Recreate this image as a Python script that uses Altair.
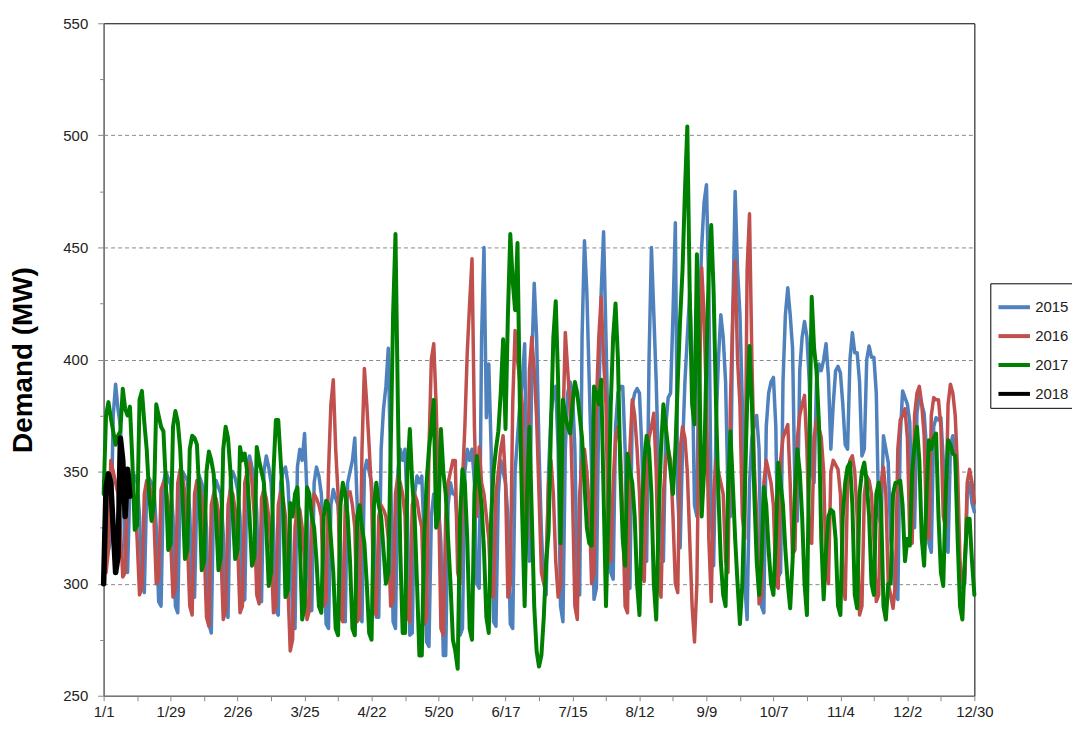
import altair as alt
import pandas as pd

tick_labels = ["1/1", "1/29", "2/26", "3/25", "4/22", "5/20", "6/17", "7/15",
               "8/12", "9/9", "10/7", "11/4", "12/2", "12/30"]
years = ["2015", "2016", "2017", "2018"]
colors = ["#4F81BD", "#C0504D", "#008000", "#000000"]
widths = [3.5, 3.5, 4.0, 5.5]

demand_2015 = [
    318, 335, 315, 320, 375, 389, 378,
    370, 350, 310, 305, 345, 350, 348,
    345, 330, 300, 296, 342, 347, 345,
    343, 325, 292, 290, 345, 350, 347,
    344, 330, 290, 287, 345, 350, 348,
    346, 332, 296, 294, 342, 348, 345,
    340, 325, 282, 278, 340, 346, 343,
    340, 322, 288, 285, 346, 350, 347,
    342, 330, 292, 293, 352, 357, 352,
    348, 332, 295, 292, 350, 357, 352,
    345, 325, 288, 286, 345, 350, 352,
    345, 325, 282, 280, 352, 360, 355,
    367, 340, 290, 288, 345, 352, 348,
    340, 320, 282, 280, 335, 342, 338,
    335, 318, 285, 283, 345, 350, 355,
    365, 335, 285, 283, 350, 355, 350,
    345, 325, 285, 285, 360, 378, 388,
    405, 350, 283, 280, 350, 360, 355,
    360, 330, 277, 278, 340, 348, 345,
    348, 320, 274, 272, 330, 340, 338,
    335, 318, 268, 268, 335, 345, 340,
    340, 325, 277, 280, 350, 360, 355,
    360, 345, 300, 298, 410, 450, 374,
    398, 360, 283, 281, 340, 355, 350,
    345, 330, 282, 280, 350, 365, 380,
    390, 407, 330, 310, 400, 434, 410,
    360, 323, 300, 295, 350, 375, 385,
    388, 360, 290, 283, 360, 385, 390,
    385, 360, 300, 295, 410, 453, 430,
    390, 350, 293, 298, 380, 430, 457,
    410, 360, 305, 302, 370, 385, 388,
    388, 360, 300, 298, 380, 385, 387,
    385, 360, 312, 310, 400, 450, 420,
    390, 350, 312, 310, 370, 383, 385,
    420, 461, 340, 316, 360, 390, 410,
    430, 400, 335, 330, 420, 450, 470,
    478, 430, 330, 308, 370, 400, 420,
    410, 390, 340, 330, 420, 475, 440,
    420, 380, 300, 284, 345, 365, 371,
    375, 360, 290, 287, 370, 385, 390,
    392, 370, 303, 305, 390, 420, 432,
    420, 405, 340, 328, 395, 410, 417,
    410, 390, 350, 345, 390, 398, 395,
    400, 407, 392, 360, 380, 395, 397,
    394, 380, 362, 360, 400, 412, 403,
    403, 390, 357, 360, 400, 406, 401,
    401, 385, 330, 326, 366, 360, 354,
    320, 310, 295, 293, 365, 386, 383,
    380, 372, 330, 325, 376, 384, 380,
    376, 360, 318, 314, 370, 374, 373,
    374, 355, 316, 314, 362, 366, 355,
    330, 300, 298, 300, 340, 345, 336,
    332,
]

demand_2016 = [
    310, 305, 315, 355, 350, 345, 340,
    325, 303, 305, 345, 346, 342, 338,
    320, 295, 298, 340, 346, 345, 340,
    330, 300, 302, 342, 345, 343, 335,
    320, 294, 298, 345, 351, 348, 340,
    320, 290, 286, 340, 346, 345, 338,
    318, 285, 281, 335, 340, 338, 332,
    315, 284, 288, 335, 342, 340, 333,
    318, 287, 290, 345, 350, 354, 345,
    330, 295, 291, 338, 342, 338, 330,
    315, 287, 290, 335, 341, 338, 330,
    300, 270, 275, 325, 335, 333, 325,
    310, 284, 288, 330, 340, 338, 335,
    330, 290, 292, 350, 380, 391, 360,
    340, 285, 283, 335, 340, 341, 335,
    325, 283, 285, 360, 396, 380, 361,
    340, 288, 286, 330, 335, 333, 330,
    320, 290, 292, 340, 348, 345, 340,
    330, 285, 283, 335, 340, 337, 330,
    325, 282, 284, 360, 400, 407, 380,
    340, 280, 277, 330, 345, 350, 355,
    355, 305, 300, 345, 370, 403, 425,
    445, 370, 330, 361, 345, 340, 330,
    320, 295, 294, 340, 350, 360, 366,
    345, 294, 300, 380, 413, 400, 390,
    380, 330, 320, 395, 410, 395, 374,
    340, 305, 300, 310, 345, 355, 340,
    310, 294, 300, 370, 412, 395, 380,
    340, 290, 284, 340, 355, 360, 350,
    335, 300, 305, 380, 410, 428, 400,
    380, 320, 310, 345, 365, 370, 360,
    330, 290, 287, 360, 382, 375, 360,
    340, 305, 301, 350, 365, 370, 376,
    350, 300, 294, 340, 355, 360, 355,
    330, 300, 296, 360, 370, 365, 350,
    320, 290, 274, 300, 380, 441, 420,
    380, 320, 292, 340, 355, 350, 345,
    340, 310, 305, 380, 420, 444, 400,
    380, 330, 320, 440, 465, 400, 352,
    330, 291, 295, 345, 355, 350, 345,
    335, 300, 298, 355, 365, 368, 371,
    345, 313, 315, 365, 375, 380, 384,
    360, 320, 318, 365, 373, 370, 365,
    350, 305, 300, 350, 355, 353, 351,
    340, 300, 293, 345, 355, 357, 350,
    330, 286, 290, 340, 348, 346, 340,
    320, 292, 295, 345, 352, 340, 300,
    295, 289, 300, 360, 373, 375, 378,
    365, 320, 318, 375, 385, 388, 380,
    366, 325, 320, 375, 383, 382, 382,
    370, 330, 325, 380, 389, 385, 375,
    350, 310, 301, 305, 345, 351, 345,
    336,
]

demand_2017 = [
    340, 375, 381, 374, 368, 362, 366,
    368, 387, 378, 375, 379, 355, 324,
    326, 382, 386, 372, 360, 340, 328,
    335, 380, 375, 370, 368, 345, 315,
    318, 370, 377, 372, 360, 338, 311,
    315, 360, 366, 365, 362, 340, 306,
    310, 350, 359, 355, 349, 330, 306,
    312, 360, 370, 365, 350, 330, 311,
    315, 361, 355, 358, 350, 330, 308,
    312, 361, 355, 350, 345, 325, 299,
    305, 350, 373, 373, 355, 336, 294,
    297, 336, 330, 340, 343, 320, 284,
    290, 343, 340, 330, 325, 310, 290,
    287, 330, 337, 335, 320, 305, 280,
    277, 335, 345, 340, 330, 310, 280,
    277, 330, 335, 325, 318, 300, 278,
    275, 335, 345, 335, 330, 315, 300,
    305, 360, 420, 456, 380, 315, 278,
    278, 350, 369, 345, 330, 300, 268,
    268, 320, 345, 360, 370, 382, 325,
    330, 369, 350, 340, 320, 300, 275,
    270, 262, 330, 351, 345, 320, 280,
    275, 340, 357, 345, 335, 315, 285,
    278, 330, 350, 360, 368, 385, 409,
    369, 420, 456, 435, 422, 452, 380,
    330, 290, 340, 370, 330, 290, 270,
    263, 268, 285, 310, 323, 370, 410,
    426, 390, 318, 382, 375, 370, 367,
    380, 390, 385, 375, 365, 345, 325,
    318, 317, 388, 385, 380, 391, 340,
    290, 330, 380, 410, 425, 400, 350,
    320, 308, 358, 350, 345, 330, 300,
    286, 330, 355, 366, 360, 340, 300,
    284, 330, 360, 380, 370, 360, 350,
    340, 360, 390, 418, 440, 475, 504,
    430, 380, 371, 447, 400, 330, 350,
    400, 440, 460, 430, 380, 340, 310,
    295, 290, 340, 368, 345, 320, 300,
    282, 300, 340, 380, 406, 380, 340,
    310, 295, 310, 343, 335, 315, 300,
    295, 320, 354, 345, 335, 315, 300,
    289, 310, 340, 360, 350, 330, 300,
    286, 360, 428, 405, 395, 372, 320,
    293, 315, 330, 333, 332, 320, 290,
    286, 330, 345, 352, 354, 335, 295,
    289, 340, 350, 354, 345, 330, 300,
    295, 340, 345, 335, 290, 284, 300,
    300, 340, 345, 345, 346, 335, 310,
    320, 317, 350, 362, 370, 355, 320,
    308, 340, 364, 360, 365, 367, 330,
    305, 299, 340, 364, 362, 358, 357,
    320, 290, 284, 310, 329, 329, 310,
    295,
]

demand_2018 = [300, 343, 349, 345, 325, 305, 312, 365, 355, 330, 351, 339]

rows = []
for yr, vals in zip(years, [demand_2015, demand_2016, demand_2017, demand_2018]):
    for i, v in enumerate(vals):
        rows.append({"day": i, "year": yr, "demand": v})
df = pd.DataFrame(rows)

label_js = "[" + ",".join("'" + t + "'" for t in tick_labels) + "]"

font = "Liberation Sans"

x_axis = alt.Axis(
    values=list(range(0, 365, 14)),
    labelExpr="datum.value % 28 == 0 ? " + label_js + "[datum.value / 28] : ''",
    grid=False, labelFlush=False, labelOverlap=False,
    tickSize=5, labelPadding=4, labelFontSize=15, labelFont=font,
    labelColor="#222222", domainColor="#888888", tickColor="#888888",
    title=None,
)

y_axis = alt.Axis(
    values=list(range(250, 551, 25)),
    labelExpr="datum.value % 50 == 0 ? datum.label : ''",
    labelFlush=False, labelOverlap=False,
    tickSize={"condition": {"test": "datum.value % 50 != 0", "value": 4}, "value": 6},
    labelPadding=10, labelFontSize=15, labelFont=font, labelColor="#222222",
    domainColor="#888888", tickColor="#888888",
    grid=True, gridColor="#8a8a8a", gridDash=[4, 3], gridWidth=1,
    gridOpacity={"condition": {"test": "datum.value % 50 != 0 || datum.value == 250 || datum.value == 550",
                               "value": 0}, "value": 1},
    title="Demand (MW)", titleFont=font, titleFontSize=28, titleFontWeight="bold",
    titleColor="#000000", titleX=-80, titleBaseline="middle", titleAngle=270,
)

legend = alt.Legend(
    orient="none", legendX=890, legendY=261, title=None,
    symbolType="stroke", symbolStrokeWidth=4, symbolSize=1000,
    labelFontSize=15, labelFont=font, labelColor="#222222", labelOffset=3,
    strokeColor="black", fillColor="white", padding=6, rowPadding=3,
)

layers = []
for yr, w in zip(years, widths):
    layers.append(
        alt.Chart(df)
        .transform_filter(alt.datum.year == yr)
        .mark_line(strokeWidth=w, strokeJoin="round", strokeCap="round")
        .encode(
            x=alt.X("day:Q", scale=alt.Scale(domain=[0, 364], nice=False, zero=False), axis=x_axis),
            y=alt.Y("demand:Q", scale=alt.Scale(domain=[250, 550], nice=False, zero=False), axis=y_axis),
            color=alt.Color("year:N", scale=alt.Scale(domain=years, range=colors), legend=legend),
        )
    )

chart = (
    alt.layer(*layers)
    .properties(
        width=874, height=675,
        autosize=alt.AutoSizeParams(type="none"),
        padding={"left": 96, "top": 14, "right": 98, "bottom": 22},
        background="white",
    )
    .configure_view(stroke="black", strokeWidth=1)
)

chart.save("out.html", embed_options={"renderer": "svg", "actions": False})
